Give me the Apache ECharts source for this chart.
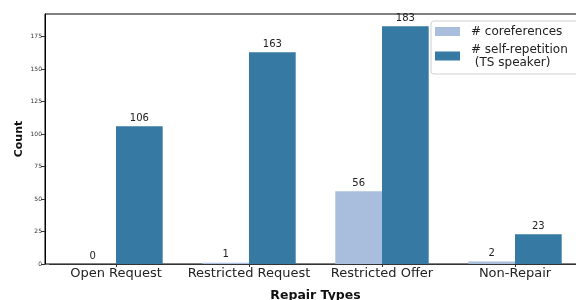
<!DOCTYPE html>
<html>
<head>
<meta charset="utf-8">
<script src="https://cdn.jsdelivr.net/npm/echarts@6/dist/echarts.min.js"></script>
<style>
    html, body { margin: 0; padding: 0; background: #fff; }
    #chart { width: 576px; height: 300px; }
</style>
</head>
<body>
<div id="chart"></div>
<script>
// Data
const categories = ['Open Request', 'Restricted Request', 'Restricted Offer', 'Non-Repair'];
const coreferences = [0, 1, 56, 2];
const selfRepetition = [106, 163, 183, 23];
const yTicks = [0, 25, 50, 75, 100, 125, 150, 175];

const FONT = 'DejaVu Sans';

document.addEventListener('DOMContentLoaded', function() {
    const myChart = echarts.init(document.getElementById('chart'));

    const barLabel = {
        show: true,
        position: 'top',
        distance: 3,
        fontFamily: FONT,
        fontSize: 10,
        color: '#222'
    };

    const option = {
        animation: false,
        textStyle: { fontFamily: FONT },
        grid: [
            // main plotting area (bands of 133px, first centre at x=116)
            { left: 49.5, top: 14, width: 532, height: 250, outerBoundsMode: 'none', containLabel: false },
            // frame only: spines start at x=45
            { left: 45, top: 14, width: 560, height: 250, show: true, outerBoundsMode: 'none',
              borderColor: '#000', borderWidth: 1, backgroundColor: 'transparent' }
        ],
        legend: {
            left: 431,
            top: 21,
            orient: 'vertical',
            icon: 'rect',
            itemWidth: 25,
            itemHeight: 9,
            itemGap: 5,
            padding: [4, 20, 5, 4],
            backgroundColor: 'rgba(255,255,255,0.8)',
            borderColor: '#d0d0d0',
            borderWidth: 1,
            borderRadius: 3,
            textStyle: { fontFamily: FONT, fontSize: 12, color: '#222', lineHeight: 13, padding: [0, 0, 0, 6] },
            data: ['# coreferences', '# self-repetition\n (TS speaker)']
        },
        xAxis: [
            {
                type: 'category',
                gridIndex: 0,
                data: categories,
                name: 'Repair Types',
                nameLocation: 'middle',
                nameGap: 25,
                nameMoveOverlap: false,
                nameTextStyle: { fontFamily: FONT, fontSize: 12.5, fontWeight: 'bold', color: '#111', verticalAlign: 'top' },
                axisLine: { show: true, lineStyle: { color: '#333', width: 1 } },
                axisTick: { show: true, alignWithLabel: true, length: 3, lineStyle: { color: '#333' } },
                axisLabel: { fontFamily: FONT, fontSize: 13, color: '#222', margin: 3, interval: 0 }
            },
            { type: 'value', gridIndex: 1, show: false }
        ],
        yAxis: [
            {
                type: 'value',
                gridIndex: 0,
                min: 0,
                max: 192.5,
                offset: 4.5,
                name: 'Count',
                nameLocation: 'middle',
                nameGap: 20,
                nameMoveOverlap: false,
                nameTextStyle: { fontFamily: FONT, fontSize: 11, fontWeight: 'bold', color: '#111' },
                splitLine: { show: false },
                axisLine: { show: true, lineStyle: { color: '#000', width: 1 } },
                axisTick: { show: true, length: 4, customValues: yTicks, lineStyle: { color: '#333' } },
                axisLabel: { fontFamily: FONT, fontSize: 6, color: '#333', margin: 3, customValues: yTicks }
            },
            { type: 'value', gridIndex: 1, show: false }
        ],
        series: [
            {
                name: '# coreferences',
                type: 'bar',
                xAxisIndex: 0,
                yAxisIndex: 0,
                data: coreferences,
                barWidth: 46.7,
                barGap: '0%',
                itemStyle: { color: '#a9bedc' },
                label: barLabel
            },
            {
                name: '# self-repetition\n (TS speaker)',
                type: 'bar',
                xAxisIndex: 0,
                yAxisIndex: 0,
                data: selfRepetition,
                barWidth: 46.7,
                barGap: '0%',
                itemStyle: { color: '#367aa3' },
                label: barLabel
            }
        ]
    };

    myChart.setOption(option);
});
</script>
</body>
</html>
